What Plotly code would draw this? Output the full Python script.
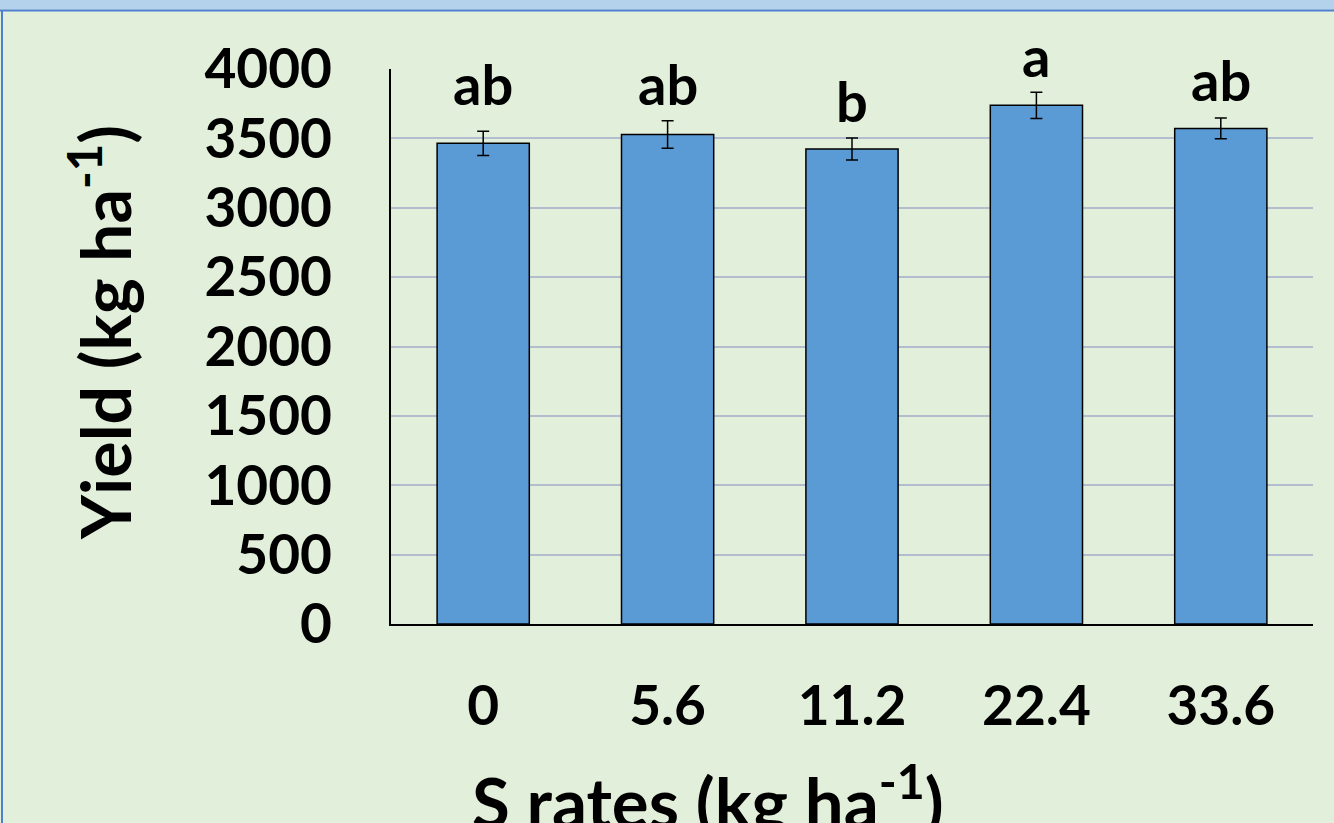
import plotly.graph_objects as go

# S application rates and grain yield
rates = ["0", "5.6", "11.2", "22.4", "33.6"]
yield_kg = [3464, 3528, 3423, 3738, 3572]
yield_se = [88, 99, 79, 94, 74]
letters = ["ab", "ab", "b", "a", "ab"]

y_ticks = [0, 500, 1000, 1500, 2000, 2500, 3000, 3500, 4000]

# figure geometry (pixels)
FIG_W, FIG_H = 1334, 823
L, R, T, B = 391, 1313, 69, 624
PW, PH = R - L, B - T


def px_x(x):
    return (x - L) / PW


def px_y(y):
    return (B - y) / PH


FONT = "Lato, 'Open Sans', sans-serif"
BG = "#E2EFDA"
BAR = "#5B9BD5"

fig = go.Figure()
fig.add_trace(go.Bar(
    x=rates,
    y=yield_kg,
    width=0.5,
    marker=dict(color=BAR, line=dict(color="#000000", width=1.5)),
    error_y=dict(type="data", array=yield_se, visible=True,
                 color="#000000", thickness=1.5, width=6),
))

# significance letters above the error bars (category index positions)
letter_shift = [12, 2, 2, 1, 3]
for i, (v, e, t, s) in enumerate(zip(yield_kg, yield_se, letters, letter_shift)):
    fig.add_annotation(x=i, y=v + e, text=t, showarrow=False,
                       yanchor="bottom", yshift=s,
                       font=dict(family=FONT, size=56, color="#000000",
                                 weight="bold"))

# axis titles
fig.add_annotation(xref="paper", yref="paper", x=px_x(100), y=px_y(333),
                   text="Yield (kg ha<sup>-1</sup>)", textangle=-90,
                   showarrow=False, xanchor="center", yanchor="middle",
                   font=dict(family=FONT, size=68, color="#000000",
                             weight="bold"))
fig.add_annotation(xref="paper", yref="paper", x=px_x(708), y=px_y(797),
                   text="S rates (kg ha<sup>-1</sup>)",
                   showarrow=False, xanchor="center", yanchor="middle",
                   font=dict(family=FONT, size=69, color="#000000",
                             weight="bold"))

# page frame: top band and border lines
fig.add_shape(type="rect", xref="paper", yref="paper",
              x0=px_x(0), x1=px_x(FIG_W), y0=px_y(0), y1=px_y(9.5),
              fillcolor="#B4D2EC", line=dict(width=0), layer="below")
fig.add_shape(type="line", xref="paper", yref="paper",
              x0=px_x(0), x1=px_x(FIG_W), y0=px_y(10.5), y1=px_y(10.5),
              line=dict(color="#4E80CF", width=2))
fig.add_shape(type="line", xref="paper", yref="paper",
              x0=px_x(2), x1=px_x(2), y0=px_y(10), y1=px_y(FIG_H),
              line=dict(color="#4E80CF", width=2))

fig.update_layout(
    width=FIG_W, height=FIG_H,
    margin=dict(l=L, r=FIG_W - R, t=T, b=FIG_H - B, autoexpand=False),
    paper_bgcolor=BG, plot_bgcolor=BG,
    showlegend=False,
    font=dict(family=FONT, color="#000000"),
)
fig.update_xaxes(
    type="category", range=[-0.5, 4.5],
    showline=True, linecolor="#000000", linewidth=2,
    showgrid=False, ticks="",
    tickfont=dict(family=FONT, size=55, color="#000000", weight="bold"),
    ticklabelstandoff=33,
)
fig.update_yaxes(
    range=[0, 4000], tickvals=y_ticks,
    showline=True, linecolor="#000000", linewidth=2,
    showgrid=True, gridcolor="#B3BDD0", gridwidth=1.5,
    zeroline=False, ticks="",
    tickfont=dict(family=FONT, size=55, color="#000000", weight="bold"),
    ticklabelstandoff=46,
)

fig.write_html("out.html")
